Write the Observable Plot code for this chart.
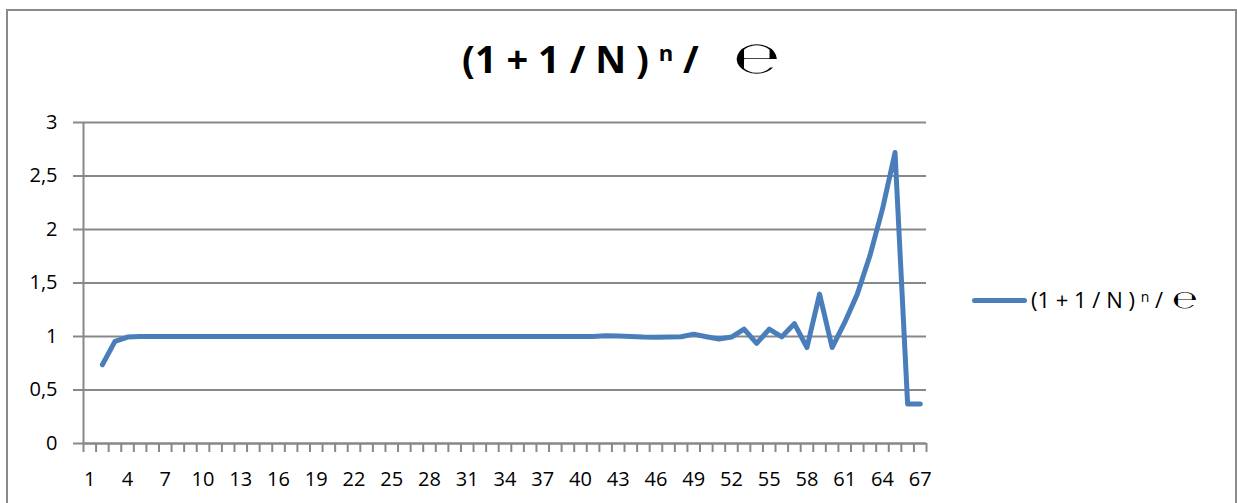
<!DOCTYPE html>
<html>
<head>
<meta charset="utf-8">
<script src="https://cdn.jsdelivr.net/npm/d3@7"></script>
<script src="https://cdn.jsdelivr.net/npm/@observablehq/plot@0.6"></script>
<style>
  html, body { margin: 0; padding: 0; background: #fff; }
  body { width: 1237px; height: 503px; position: relative; overflow: hidden; font-family: "Open Sans", sans-serif; }
  #frame { position: absolute; left: 6px; top: 9px; width: 1231px; height: 520px; border: 2px solid #8a8a8a; box-sizing: border-box; }
  #title { position: absolute; left: 462px; top: 36px; font-size: 38px; font-weight: 700; color: #000; white-space: pre; line-height: 1; }
  #title .sup { font-size: 22px; position: relative; top: -12px; }
  #title .e { display: inline-block; font-family: "DejaVu Sans", sans-serif; font-weight: 400; font-size: 44px; transform: scaleX(1.25); transform-origin: left center; margin-left: 24px; }
  #chart { position: absolute; left: 0; top: 0; }
  #legend { position: absolute; left: 972px; top: 285px; display: flex; align-items: center; font-size: 22px; white-space: pre; color: #000; line-height: 1.2; }
  #legend .swatch { width: 55px; height: 5px; border-radius: 3px; background: #4a7ebb; margin-right: 4px; }
  #legend .sup { font-size: 14px; position: relative; top: -6px; }
  #legend .e { display: inline-block; font-family: "DejaVu Sans", sans-serif; font-size: 25px; transform: scaleX(1.2); transform-origin: left center; margin-left: 3px; }
</style>
</head>
<body>
<div id="frame"></div>
<div id="title"></div>
<div id="chart"></div>
<div id="legend"></div>
<script>
// Row numbers of the sheet (category axis)
const categories = [1,2,3,4,5,6,7,8,9,10,11,12,13,14,15,16,17,18,19,20,21,22,23,24,25,26,27,28,29,30,31,32,33,34,35,36,37,38,39,40,41,42,43,44,45,46,47,48,49,50,51,52,53,54,55,56,57,58,59,60,61,62,63,64,65,66,67];
// (1 + 1/N)^N / e for each row; row 1 holds no value
const ratio = [null,0.7358,0.9542,0.9950,0.9995,1,1,1,1,1,1,1,1,1,1,1,1,1,1,1,1,1,1,1,1,1,1,1,1,1,1,1,1,1,1,1,1,1,1,1,1.000,1.006,1.004,1.000,0.995,0.994,0.996,0.998,1.022,0.998,0.976,0.995,1.069,0.935,1.069,0.997,1.120,0.897,1.396,0.897,1.131,1.396,1.754,2.190,2.720,0.368,0.368];
// Category tick boundaries and labelled categories
const xBoundaries = [0.5,1.5,2.5,3.5,4.5,5.5,6.5,7.5,8.5,9.5,10.5,11.5,12.5,13.5,14.5,15.5,16.5,17.5,18.5,19.5,20.5,21.5,22.5,23.5,24.5,25.5,26.5,27.5,28.5,29.5,30.5,31.5,32.5,33.5,34.5,35.5,36.5,37.5,38.5,39.5,40.5,41.5,42.5,43.5,44.5,45.5,46.5,47.5,48.5,49.5,50.5,51.5,52.5,53.5,54.5,55.5,56.5,57.5,58.5,59.5,60.5,61.5,62.5,63.5,64.5,65.5,66.5,67.5];
const xLabels = [1,4,7,10,13,16,19,22,25,28,31,34,37,40,43,46,49,52,55,58,61,64,67];
const yTicks = [0,0.5,1,1.5,2,2.5,3];

// Series name, split so the exponent and the e symbol can be styled
const seriesName = ["(1 + 1 / N ) ", "n", " / ", "℮"];

const rows = categories.map((c, i) => ({cat: c, v: ratio[i]}));
const grid = "#888888";
const blue = "#4a7ebb";

const plot = Plot.plot({
  width: 1237,
  height: 503,
  marginLeft: 83,
  marginRight: 311,
  marginTop: 122,
  marginBottom: 60,
  style: {fontFamily: "Open Sans, sans-serif", fontSize: "20px", color: "#000", background: "transparent", overflow: "visible"},
  x: {type: "linear", domain: [0.5, 67.5]},
  y: {domain: [0, 3]},
  marks: [
    Plot.gridY(yTicks, {stroke: grid, strokeOpacity: 1, strokeWidth: 2}),
    Plot.axisY(yTicks, {tickSize: 10, tickPadding: 16, stroke: grid, strokeWidth: 2, strokeOpacity: 1, fill: "#000",
      tickFormat: d => String(d).replace(".", ","), label: null}),
    Plot.ruleX([0.5], {stroke: grid, strokeWidth: 2}),
    Plot.ruleY([0], {stroke: grid, strokeWidth: 2}),
    Plot.axisX(xBoundaries, {tickSize: 9, tickFormat: () => "", stroke: grid, strokeWidth: 2, strokeOpacity: 1, label: null}),
    Plot.axisX(xLabels, {tickSize: 0, tickPadding: 28, fill: "#000", label: null}),
    Plot.line(rows, {x: "cat", y: "v", stroke: blue, strokeWidth: 5, strokeLinejoin: "round", strokeLinecap: "round"})
  ]
});
document.getElementById("chart").appendChild(plot);

function fillName(el) {
  const parts = ["", "sup", "", "e"];
  seriesName.forEach((t, i) => {
    const s = document.createElement("span");
    if (parts[i]) s.className = parts[i];
    s.textContent = t;
    el.appendChild(s);
  });
}
fillName(document.getElementById("title"));
const legend = document.getElementById("legend");
const sw = document.createElement("div");
sw.className = "swatch";
legend.appendChild(sw);
const lt = document.createElement("div");
fillName(lt);
legend.appendChild(lt);
</script>
</body>
</html>
